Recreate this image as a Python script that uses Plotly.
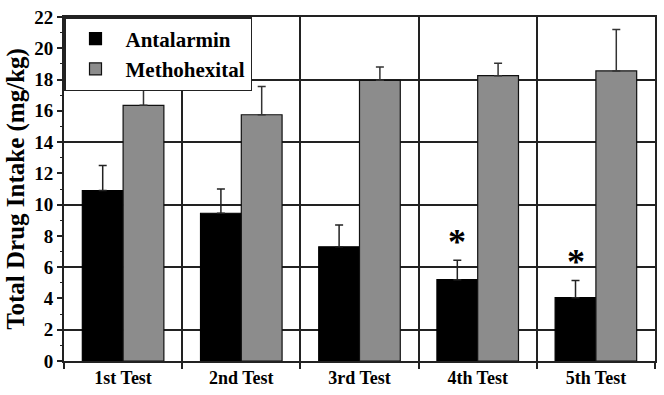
import plotly.graph_objects as go

categories = ["1st Test", "2nd Test", "3rd Test", "4th Test", "5th Test"]
antalarmin = [10.9, 9.45, 7.3, 5.2, 4.05]
antalarmin_err = [1.6, 1.55, 1.4, 1.25, 1.1]
methohexital = [16.35, 15.75, 17.95, 18.25, 18.55]
methohexital_err = [1.75, 1.8, 0.85, 0.8, 2.65]
significant = [False, False, False, True, True]

FONT = "Liberation Serif"
BARGAP = 0.31

fig = go.Figure()
fig.add_trace(go.Bar(
    x=categories, y=antalarmin, name="Antalarmin",
    marker=dict(color="#000000", line=dict(color="#000000", width=1.2)),
    error_y=dict(type="data", array=antalarmin_err, symmetric=False,
                 arrayminus=[0] * len(antalarmin), color="#222222",
                 thickness=1.5, width=4),
    yaxis="y",
))
fig.add_trace(go.Bar(
    x=categories, y=methohexital, name="Methohexital",
    marker=dict(color="#8c8c8c", line=dict(color="#111111", width=1.2)),
    error_y=dict(type="data", array=methohexital_err, symmetric=False,
                 arrayminus=[0] * len(methohexital), color="#333333",
                 thickness=1.5, width=4),
    yaxis="y",
))

# significance asterisks above the Antalarmin bars
for i, (v, e, s) in enumerate(zip(antalarmin, antalarmin_err, significant)):
    if s:
        fig.add_annotation(
            x=i - (1 - BARGAP) / 4, y=v + e, xref="x", yref="y",
            text="*", showarrow=False, yanchor="bottom",
            font=dict(family=FONT, size=36, color="black", weight="bold"),
            yshift=-4,
        )

fig.update_layout(
    width=664, height=395,
    margin=dict(l=64, r=7, t=12, b=30),
    paper_bgcolor="white", plot_bgcolor="white",
    barmode="group", bargap=BARGAP, bargroupgap=0,
    font=dict(family=FONT, color="black", weight="bold"),
    showlegend=True,
    legend=dict(
        x=0, y=1, xanchor="left", yanchor="top",
        bgcolor="white", bordercolor="#222222", borderwidth=1.5,
        font=dict(family=FONT, size=21, color="black", weight="bold"),
        itemwidth=50, tracegroupgap=0,
    ),
    xaxis=dict(
        type="category", tickson="boundaries",
        showgrid=True, gridcolor="#222222", gridwidth=1.5,
        showline=True, linecolor="#222222", linewidth=1.5, mirror=True,
        ticks="outside", ticklen=6, tickcolor="#222222", tickwidth=1.5,
        tickfont=dict(family=FONT, size=18, color="black", weight="bold"),
        range=[-0.5, len(categories) - 0.5],
    ),
    yaxis=dict(
        range=[0, 22], tick0=2, dtick=4,
        showgrid=True, gridcolor="#222222", gridwidth=1.5,
        showticklabels=False, ticks="",
        showline=True, linecolor="#222222", linewidth=1.5, mirror=True,
        zeroline=False,
    ),
    yaxis2=dict(
        overlaying="y", side="left", range=[0, 22], tick0=0, dtick=2,
        showgrid=False, zeroline=False,
        ticks="outside", ticklen=6, tickcolor="#222222", tickwidth=1.5,
        minor=dict(dtick=1, ticks="outside", ticklen=3, tickcolor="#222222", tickwidth=1.2),
        tickfont=dict(family=FONT, size=19, color="black", weight="bold"),
        title=dict(text="Total Drug Intake (mg/kg)", standoff=2,
                   font=dict(family=FONT, size=25, color="black", weight="bold")),
        showline=False,
    ),
)
# invisible trace so yaxis2 is rendered
fig.add_trace(go.Scatter(x=categories, y=antalarmin, yaxis="y2", mode="markers",
                         marker=dict(opacity=0), showlegend=False, hoverinfo="skip"))

fig.write_html("out.html")
